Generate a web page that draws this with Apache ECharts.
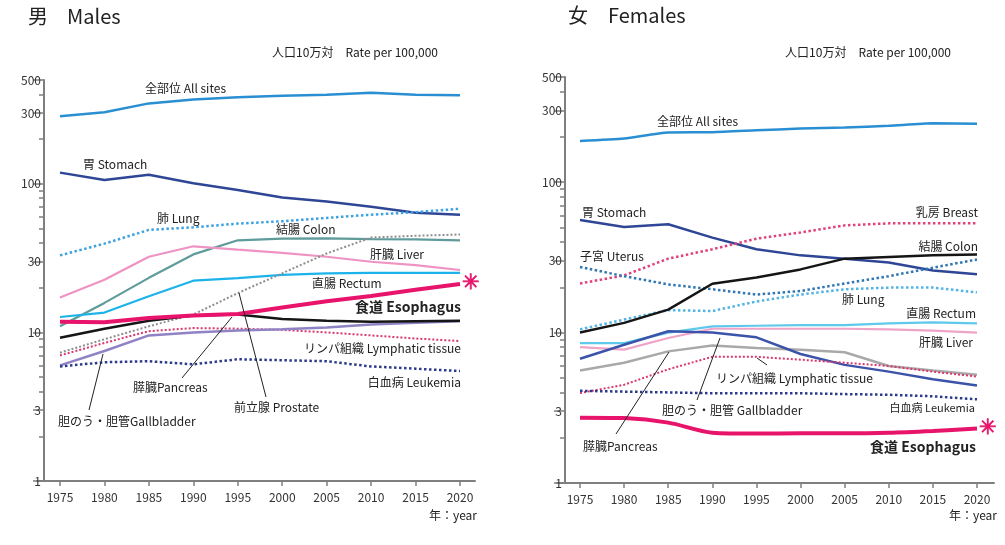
<!DOCTYPE html>
<html>
<head>
<meta charset="utf-8">
<script src="https://cdn.jsdelivr.net/npm/echarts@6/dist/echarts.min.js"></script>
<style>
html, body { margin: 0; padding: 0; background: #fff; }
#chart { width: 1005px; height: 545px; }
</style>
</head>
<body>
<div id="chart"></div>
<script>
// ---- data: rate per 100,000 by year ----
const years = [1975, 1980, 1985, 1990, 1995, 2000, 2005, 2010, 2015, 2020];

// males
const mAllSites    = [285, 303, 348, 370, 382, 391, 398, 410, 398, 394];
const mStomach     = [119, 106, 115, 101, 91, 81, 76, 70, 64, 62];
const mLung        = [33, 39.6, 49, 51, 54, 56, 59, 62, 64.5, 68];
const mColon       = [11, 15.8, 23.3, 33.5, 41.7, 42.8, 43, 42.5, 42.3, 41.7];
const mLiver       = [17.2, 22.6, 32.3, 38, 36.1, 34.3, 32.3, 29.9, 28.4, 26.3];
const mRectum      = [12.7, 13.6, 17.5, 22.3, 23.2, 24.4, 25, 25.2, 25.2, 25.2];
const mEsophagus   = [11.8, 11.7, 12.5, 13, 13.3, 14.7, 16.2, 17.6, 19.4, 21.2];
const mPancreas    = [9.2, 10.6, 12.0, 13.0, 13.2, 12.3, 12.0, 11.8, 11.9, 12.0];
const mProstate    = [7.3, 9.0, 11.0, 13.2, 18.4, 25, 34, 43.5, 44.7, 45.6];
const mLymphatic   = [7.0, 8.5, 10.2, 10.7, 10.6, 10.4, 10.0, 9.55, 9.1, 8.75];
const mGallbladder = [6.0, 7.5, 9.55, 10.0, 10.3, 10.5, 10.8, 11.3, 11.6, 11.9];
const mLeukemia    = [5.9, 6.3, 6.4, 6.1, 6.6, 6.5, 6.4, 5.9, 5.7, 5.5];

// females
const fAllSites    = [188, 195, 214, 215, 221, 227, 231, 237, 246, 244];
const fStomach     = [56, 50.4, 52.5, 42.8, 35.8, 32.6, 31, 29.2, 25.9, 24.4];
const fBreast      = [21.2, 24, 31, 35.8, 42.1, 46.3, 51.6, 53.2, 53.2, 53.2];
const fColon       = [10, 11.6, 14.2, 21.1, 23.2, 26.3, 31, 31.8, 32.6, 33.1];
const fUterus      = [27.3, 23.7, 20.9, 19.4, 17.9, 18.9, 21.2, 23.7, 27, 30.6];
const fLung        = [10.5, 12.2, 14.1, 13.9, 16.1, 17.9, 19.4, 19.9, 19.9, 18.5];
const fRectum      = [8.5, 8.5, 10, 11, 11.1, 11.2, 11.2, 11.5, 11.7, 11.5];
const fLiver       = [8.0, 7.7, 9.2, 10.6, 10.6, 10.6, 10.6, 10.5, 10.3, 10];
const fGallbladder = [6.7, 8.3, 10.2, 10, 9.3, 7.2, 6.1, 5.5, 4.9, 4.45];
const fPancreas    = [5.6, 6.3, 7.5, 8.2, 7.9, 7.7, 7.4, 6.0, 5.6, 5.25];
const fLymphatic   = [3.96, 4.5, 5.7, 6.9, 6.9, 6.6, 6.3, 6.0, 5.5, 5.1];
const fLeukemia    = [4.1, 4.05, 4.0, 3.95, 3.95, 3.95, 3.9, 3.86, 3.77, 3.6];
const fEsophagus   = [2.72, 2.7, 2.52, 2.16, 2.13, 2.14, 2.14, 2.16, 2.22, 2.3];

// axis tick values
const yMajorTicks = [1, 3, 10, 30, 100, 300, 500];
const yMinorTicks = [2, 4, 5, 6, 7, 8, 9, 20, 40, 50, 60, 70, 80, 90, 200, 400];
const yMin = 1, yMax = 500;

// ---- styling ----
const FONT = '"Noto Sans CJK JP", "Noto Sans", sans-serif';
const AXIS_COLOR = '#7f7f7f';
const TEXT_COLOR = '#222';

const C = {
  allSites: '#2a8fd2',
  stomach: '#2e4695',
  lung: '#3ca2e2',
  colonM: '#5f9b9b',
  liver: '#ee93c3',
  rectum: '#1cb3ea',
  esophagus: '#e8146b',
  black: '#151515',
  prostate: '#8e8e8e',
  lymph: '#d8376f',
  gallM: '#8f82c5',
  leuk: '#2b3a8c',
  breast: '#e0407c',
  uterus: '#2f76b2',
  lungF: '#52b3e6',
  rectumF: '#5fc9ec',
  liverF: '#eea4c6',
  gallF: '#3b53a8',
  pancF: '#a9a9a9'
};

// pixel frames of the two panels
const panels = [
  { left: 37, right: 1005 - 475, top: 80, bottom: 545 - 481, yOffset: -7,
    xMin: 1975 - 23 * 45 / 400, xMax: 2020 + 15 * 45 / 400 },
  { left: 557, right: 1005 - 994, top: 77, bottom: 545 - 483, yOffset: -8,
    xMin: 1975 - 23 * 45 / 397, xMax: 2020 + 17 * 45 / 397 }
];

const grids = [], xAxes = [], yAxes = [];
panels.forEach((p, g) => {
  grids.push({ left: p.left, right: p.right, top: p.top, bottom: p.bottom, containLabel: false });
  xAxes.push({
    type: 'value', gridIndex: g, min: p.xMin, max: p.xMax,
    axisLine: { show: true, onZero: false, lineStyle: { color: AXIS_COLOR, width: 2 } },
    axisTick: { show: true, customValues: years, length: 5, lineStyle: { color: AXIS_COLOR, width: 1.5 } },
    axisLabel: { customValues: years, formatter: v => String(v), margin: 10,
                 fontSize: 12, color: '#333', fontFamily: FONT },
    splitLine: { show: false }
  });
  // data axis (log scale)
  yAxes.push({
    type: 'log', logBase: 10, gridIndex: g, min: yMin, max: yMax, position: 'left', offset: p.yOffset,
    axisLine: { show: true, lineStyle: { color: AXIS_COLOR, width: 2 } },
    axisTick: { show: false }, axisLabel: { show: false }, splitLine: { show: false }, minorTick: { show: false }
  });
  // major ticks and labels, placed in log10 space of the same range
  const majorPos = yMajorTicks.map(v => Math.log10(v));
  yAxes.push({
    type: 'value', gridIndex: g, min: Math.log10(yMin), max: Math.log10(yMax), position: 'left', offset: p.yOffset,
    axisLine: { show: false },
    axisTick: { show: true, customValues: majorPos, length: 11, lineStyle: { color: AXIS_COLOR, width: 1.5 } },
    axisLabel: { show: true, customValues: majorPos, formatter: v => String(Math.round(Math.pow(10, v))),
                 margin: 3, fontSize: 12, color: '#333', fontFamily: FONT },
    splitLine: { show: false }
  });
  // minor ticks
  const minorPos = yMinorTicks.map(v => Math.log10(v));
  yAxes.push({
    type: 'value', gridIndex: g, min: Math.log10(yMin), max: Math.log10(yMax), position: 'left', offset: p.yOffset,
    axisLine: { show: false },
    axisTick: { show: true, customValues: minorPos, length: 5, lineStyle: { color: AXIS_COLOR, width: 1.5 } },
    axisLabel: { show: false },
    splitLine: { show: false }
  });
});

function line(g, values, color, width, dotted, extra) {
  const s = {
    type: 'line', xAxisIndex: g, yAxisIndex: g * 3,
    data: years.map((y, i) => [y, values[i]]),
    symbol: 'none', silent: true,
    lineStyle: { color: color, width: width, type: dotted ? [width, width] : 'solid', cap: 'butt' },
    z: 2
  };
  return Object.assign(s, extra || {});
}

// asterisk mark at the end of the esophagus lines
const starLabel = {
  endLabel: { show: true, formatter: '\u2733', color: C.esophagus, fontSize: 21, fontWeight: 'bold',
              fontFamily: '"DejaVu Sans", sans-serif', distance: 2,
              textBorderColor: C.esophagus, textBorderWidth: 0.8 },
  z: 5
};

const series = [
  // males
  line(0, mAllSites, C.allSites, 2.5, false),
  line(0, mStomach, C.stomach, 2.5, false),
  line(0, mLung, C.lung, 2.5, true),
  line(0, mColon, C.colonM, 2.2, false),
  line(0, mLiver, C.liver, 2.2, false),
  line(0, mRectum, C.rectum, 2.2, false),
  line(0, mProstate, C.prostate, 2, true),
  line(0, mLymphatic, C.lymph, 2, true),
  line(0, mGallbladder, C.gallM, 2.5, false),
  line(0, mLeukemia, C.leuk, 2.5, true),
  line(0, mPancreas, C.black, 2.5, false),
  line(0, mEsophagus, C.esophagus, 4, false, starLabel),
  // females
  line(1, fAllSites, C.allSites, 2.5, false, { smooth: 0.2 }),
  line(1, fStomach, C.stomach, 2.5, false),
  line(1, fBreast, C.breast, 2.5, true),
  line(1, fUterus, C.uterus, 2.5, true),
  line(1, fLung, C.lungF, 2.5, true),
  line(1, fRectum, C.rectumF, 2.2, false),
  line(1, fLiver, C.liverF, 2.2, false),
  line(1, fPancreas, C.pancF, 2.5, false),
  line(1, fGallbladder, C.gallF, 2.5, false),
  line(1, fLymphatic, C.lymph, 2, true),
  line(1, fLeukemia, C.leuk, 2.5, true),
  line(1, fColon, C.black, 2.5, false),
  line(1, fEsophagus, C.esophagus, 4, false, Object.assign({ smooth: 0.3 }, starLabel))
];

// ---- annotations ----
function txt(text, x, y, opt) {
  opt = opt || {};
  return {
    type: 'text', x: x, y: y, silent: true, z: 10,
    style: {
      text: text, fill: opt.color || TEXT_COLOR,
      font: (opt.bold ? 'bold ' : '') + (opt.size || 12) + 'px ' + FONT,
      align: opt.align || 'left', verticalAlign: 'middle'
    }
  };
}
function leader(x1, y1, x2, y2) {
  return { type: 'line', silent: true, z: 10,
           shape: { x1: x1, y1: y1, x2: x2, y2: y2 },
           style: { stroke: '#222', lineWidth: 1 } };
}

const graphics = [
  // headings
  txt('男', 28, 16, { size: 20 }), txt('Males', 67, 16, { size: 20 }),
  txt('女', 568, 15, { size: 20 }), txt('Females', 608, 15, { size: 20 }),
  txt('人口10万対　Rate per 100,000', 438, 52, { align: 'right' }),
  txt('人口10万対　Rate per 100,000', 951, 52, { align: 'right' }),
  txt('年：year', 477, 515, { align: 'right' }),
  txt('年：year', 997, 515, { align: 'right' }),

  // male series names
  txt('全部位 All sites', 145, 88),
  txt('胃 Stomach', 83, 164),
  txt('肺 Lung', 157, 218),
  txt('結腸 Colon', 276, 229),
  txt('肝臓 Liver', 370, 254),
  txt('直腸 Rectum', 312, 283),
  txt('食道 Esophagus', 461, 307, { align: 'right', bold: true, size: 14 }),
  txt('リンパ組織 Lymphatic tissue', 461, 348, { align: 'right' }),
  txt('白血病 Leukemia', 461, 382, { align: 'right' }),
  txt('膵臓Pancreas', 133, 387),
  txt('前立腺 Prostate', 234, 407),
  txt('胆のう・胆管Gallbladder', 58, 421),
  leader(182, 378, 232, 317),
  leader(266, 397, 239, 293),
  leader(89, 410, 103, 354),

  // female series names
  txt('全部位 All sites', 657, 121),
  txt('胃 Stomach', 582, 212),
  txt('乳房 Breast', 978, 212, { align: 'right' }),
  txt('結腸 Colon', 978, 246, { align: 'right' }),
  txt('子宮 Uterus', 580, 256),
  txt('肺 Lung', 842, 299),
  txt('直腸 Rectum', 976, 313, { align: 'right' }),
  txt('肝臓 Liver', 973, 342, { align: 'right' }),
  txt('リンパ組織 Lymphatic tissue', 716, 378),
  txt('白血病 Leukemia', 975, 408, { align: 'right', size: 11 }),
  txt('胆のう・胆管 Gallbladder', 662, 410),
  txt('膵臓Pancreas', 583, 446),
  txt('食道 Esophagus', 976, 447, { align: 'right', bold: true, size: 14 }),
  leader(616, 434, 669, 352),
  leader(697, 400, 720, 338),
  leader(767, 365, 757, 358)
];

const chart = echarts.init(document.getElementById('chart'), null, { renderer: 'canvas' });
chart.setOption({
  animation: false,
  backgroundColor: '#fff',
  textStyle: { fontFamily: FONT },
  grid: grids,
  xAxis: xAxes,
  yAxis: yAxes,
  series: series,
  graphic: graphics
});
</script>
</body>
</html>
